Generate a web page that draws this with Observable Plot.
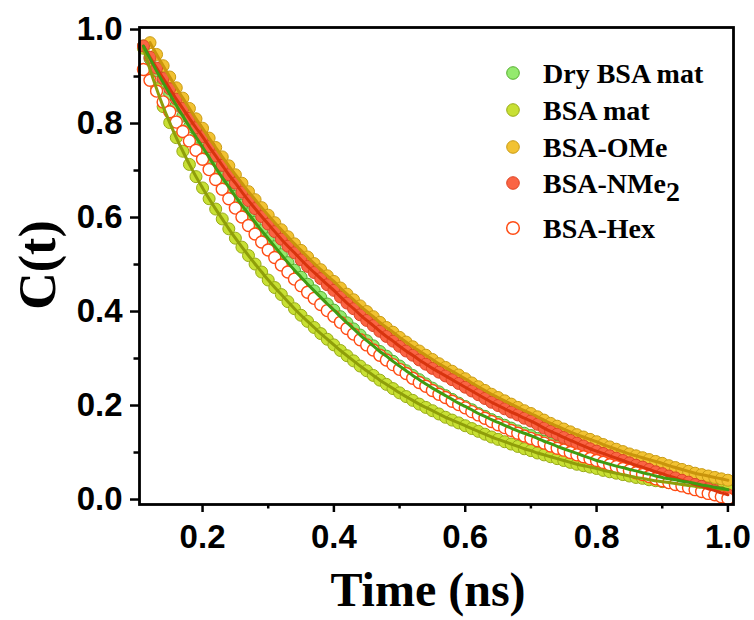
<!DOCTYPE html>
<html><head><meta charset="utf-8">
<script src="https://cdn.jsdelivr.net/npm/d3@7"></script>
<script src="https://cdn.jsdelivr.net/npm/@observablehq/plot@0.6"></script>
<style>html,body{margin:0;padding:0;background:#fff;} #chart{width:754px;height:620px;}</style>
</head><body><div id="chart"></div>
<script>
const time = [0.11,0.12,0.13,0.14,0.15,0.16,0.17,0.18,0.19,0.20,
0.21,0.22,0.23,0.24,0.25,0.26,0.27,0.28,0.29,0.30,
0.31,0.32,0.33,0.34,0.35,0.36,0.37,0.38,0.39,0.40,
0.41,0.42,0.43,0.44,0.45,0.46,0.47,0.48,0.49,0.50,
0.51,0.52,0.53,0.54,0.55,0.56,0.57,0.58,0.59,0.60,
0.61,0.62,0.63,0.64,0.65,0.66,0.67,0.68,0.69,0.70,
0.71,0.72,0.73,0.74,0.75,0.76,0.77,0.78,0.79,0.80,
0.81,0.82,0.83,0.84,0.85,0.86,0.87,0.88,0.89,0.90,
0.91,0.92,0.93,0.94,0.95,0.96,0.97,0.98,0.99,1.00];

const dryBSAmat = [0.965,0.938,0.912,0.887,0.863,0.839,0.816,0.793,0.771,0.750,
0.728,0.706,0.685,0.665,0.645,0.626,0.608,0.590,0.572,0.555,
0.538,0.521,0.504,0.488,0.473,0.458,0.444,0.430,0.416,0.403,
0.389,0.376,0.363,0.350,0.338,0.327,0.315,0.305,0.294,0.284,
0.274,0.264,0.255,0.246,0.237,0.229,0.221,0.213,0.205,0.198,
0.191,0.183,0.177,0.170,0.164,0.158,0.152,0.146,0.141,0.136,
0.130,0.124,0.119,0.113,0.108,0.103,0.098,0.093,0.088,0.083,
0.079,0.075,0.071,0.068,0.064,0.061,0.057,0.054,0.050,0.047,
0.044,0.042,0.039,0.037,0.034,0.031,0.029,0.026,0.024,0.021];

const bsaMat = [0.960,0.915,0.874,0.836,0.802,0.770,0.741,0.713,0.687,0.663,
0.640,0.618,0.597,0.576,0.556,0.537,0.519,0.501,0.484,0.467,
0.451,0.436,0.421,0.406,0.392,0.379,0.366,0.353,0.341,0.329,
0.317,0.306,0.295,0.284,0.274,0.264,0.254,0.245,0.236,0.227,
0.219,0.211,0.203,0.196,0.189,0.182,0.175,0.169,0.163,0.157,
0.151,0.145,0.139,0.133,0.128,0.123,0.118,0.113,0.108,0.104,
0.099,0.095,0.091,0.087,0.083,0.079,0.075,0.072,0.069,0.066,
0.062,0.059,0.056,0.053,0.050,0.047,0.045,0.042,0.040,0.038,
0.036,0.034,0.032,0.030,0.028,0.026,0.025,0.023,0.022,0.021];

const bsaOMe = [null,0.972,0.947,0.923,0.899,0.876,0.854,0.832,0.810,0.790,
0.769,0.749,0.729,0.710,0.691,0.673,0.655,0.638,0.621,0.605,
0.589,0.574,0.559,0.544,0.530,0.516,0.502,0.489,0.476,0.464,
0.450,0.437,0.425,0.412,0.400,0.389,0.377,0.366,0.356,0.345,
0.335,0.325,0.316,0.307,0.298,0.289,0.281,0.273,0.265,0.257,
0.248,0.240,0.232,0.224,0.217,0.210,0.203,0.196,0.189,0.183,
0.176,0.169,0.162,0.156,0.150,0.144,0.138,0.133,0.128,0.123,
0.117,0.112,0.107,0.102,0.097,0.093,0.089,0.085,0.081,0.077,
0.072,0.068,0.064,0.060,0.056,0.053,0.050,0.047,0.044,0.041];

const bsaNMe2 = [0.965,0.941,0.918,0.896,0.874,0.852,0.832,0.811,0.791,0.772,
0.751,0.731,0.711,0.691,0.673,0.654,0.636,0.619,0.602,0.586,
0.570,0.554,0.539,0.525,0.510,0.496,0.483,0.470,0.457,0.445,
0.431,0.418,0.406,0.393,0.381,0.370,0.358,0.347,0.337,0.326,
0.316,0.307,0.297,0.288,0.279,0.271,0.263,0.255,0.247,0.239,
0.231,0.223,0.215,0.207,0.200,0.193,0.186,0.180,0.173,0.167,
0.160,0.152,0.145,0.139,0.132,0.126,0.120,0.114,0.108,0.103,
0.098,0.093,0.088,0.083,0.078,0.073,0.069,0.064,0.059,0.055,
0.050,0.046,0.041,0.037,0.032,0.028,0.023,0.019,0.014,0.010];

const bsaHex = [0.915,0.892,0.869,0.846,0.825,0.803,0.783,0.763,0.743,0.724,
0.702,0.681,0.660,0.640,0.620,0.601,0.583,0.565,0.548,0.531,
0.515,0.499,0.484,0.469,0.455,0.441,0.428,0.415,0.402,0.390,
0.377,0.364,0.352,0.340,0.329,0.318,0.307,0.297,0.287,0.277,
0.268,0.258,0.249,0.241,0.232,0.224,0.217,0.209,0.202,0.195,
0.187,0.180,0.173,0.166,0.159,0.153,0.147,0.141,0.135,0.130,
0.125,0.120,0.114,0.109,0.105,0.100,0.095,0.091,0.087,0.083,
0.079,0.074,0.070,0.066,0.062,0.057,0.053,0.049,0.044,0.040,
0.036,0.032,0.029,0.025,0.021,0.017,0.013,0.010,0.006,0.002];

const xTicks = [0.2,0.4,0.6,0.8,1.0];
const xMinor = [0.3,0.5,0.7,0.9];
const yTicks = [0.0,0.2,0.4,0.6,0.8,1.0];
const yMinor = [0.1,0.3,0.5,0.7,0.9];

const seriesNames = ["Dry BSA mat","BSA mat","BSA-OMe","BSA-NMe2","BSA-Hex"];
const seriesValues = [dryBSAmat, bsaMat, bsaOMe, bsaNMe2, bsaHex];
const fills   = ["#94ea6e","#c8e034","#f2c232","#fa6444","#ffffff"];
const strokes = ["#55ae2e","#98ab16","#c99b14","#de4424","#ff4c14"];
const lineColors = ["#3f9c12","#8f9e0a","#c9940c","#d8340e",null];
const lineOrder = [1,2,3,0];

const rowsOf = vals => time.map((t,i)=>({t, v: vals[i]})).filter(d => d.v != null);

const dotMarks = seriesValues.map((vals,i) => Plot.dot(rowsOf(vals), {
  x:"t", y:"v", r:6, fill: fills[i], stroke: strokes[i], strokeWidth: i===4 ? 1.4 : 1
}));
const lineMarks = lineOrder.map(i => Plot.line(rowsOf(seriesValues[i]), {
  x:"t", y:"v", stroke: lineColors[i], strokeWidth: 3, curve:"monotone-x"
}));

const tickFont = "'Liberation Sans', Arial, sans-serif";
const plot = Plot.plot({
  width:754, height:620,
  marginLeft:139, marginRight:21, marginTop:27, marginBottom:116,
  x:{domain:[0.104,1.0085]},
  y:{domain:[-0.0106,1.0043]},
  style:{background:"#fff", color:"#000"},
  marks:[
    ...dotMarks,
    ...lineMarks,
    Plot.axisX({ticks:xTicks, tickSize:8, tickPadding:12, tickFormat:d3.format(".1f"), fontSize:33, fontWeight:"bold", fontFamily:tickFont, strokeWidth:2.5, label:null}),
    Plot.axisX({ticks:xMinor, tickSize:4.5, tickFormat:()=>"", strokeWidth:2.5, label:null}),
    Plot.axisY({ticks:yTicks, tickSize:9, tickPadding:8, tickFormat:d3.format(".1f"), fontSize:33, fontWeight:"bold", fontFamily:tickFont, strokeWidth:2.5, label:null}),
    Plot.axisY({ticks:yMinor, tickSize:5.5, tickFormat:()=>"", strokeWidth:2.5, label:null}),
    Plot.frame({stroke:"#000", strokeWidth:2.8})
  ]
});
document.getElementById("chart").appendChild(plot);

const svg = d3.select(plot);
const serif = "'Liberation Serif', 'Times New Roman', serif";
svg.append("text").attr("x",428).attr("y",606).attr("text-anchor","middle")
  .attr("font-family",serif).attr("font-weight","bold").attr("font-size",48).attr("fill","#000")
  .text("Time (ns)");
svg.append("text").attr("transform","translate(55,265) rotate(-90)").attr("text-anchor","middle")
  .attr("font-family",serif).attr("font-weight","bold").attr("font-size",52).attr("fill","#000")
  .text("C(t)");

const legendY = [73,110,147,183,228];
const lg = svg.append("g");
seriesNames.forEach((name,i) => {
  lg.append("circle").attr("cx",513).attr("cy",legendY[i]).attr("r",6.3)
    .attr("fill",fills[i]).attr("stroke",strokes[i]).attr("stroke-width", i===4 ? 1.5 : 1);
  const t = lg.append("text").attr("x",543).attr("y",legendY[i]+9.5).attr("text-anchor","start")
    .attr("font-family",serif).attr("font-weight","bold").attr("font-size",28).attr("fill","#000");
  if (name.endsWith("NMe2")) {
    t.append("tspan").text(name.slice(0,-1));
    t.append("tspan").attr("dy",8).text("2");
  } else t.text(name);
});
</script></body></html>
